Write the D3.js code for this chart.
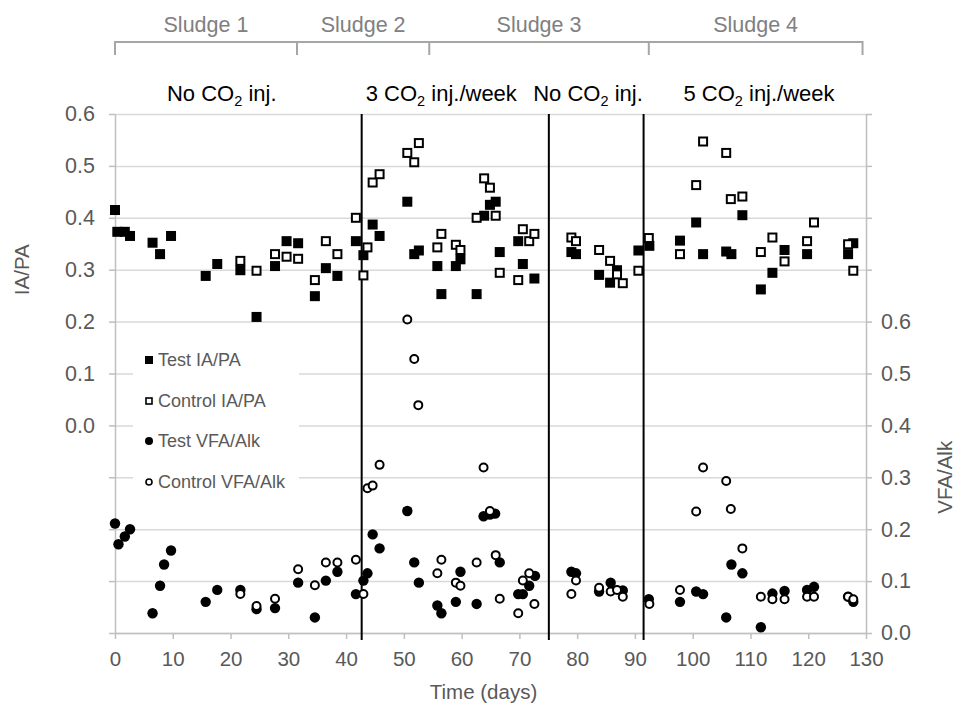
<!DOCTYPE html>
<html>
<head>
<meta charset="utf-8">
<script src="https://cdn.jsdelivr.net/npm/d3@7"></script>
<style>
  body { margin: 0; background: #fff; }
  svg { font-family: "Liberation Sans", Arial, sans-serif; display: block; }
</style>
</head>
<body>
<div id="chart"></div>
<script>
const width = 967;
const height = 713;

// [day, IA/PA]
const testIAPA = [
  [0, 0.415], [0.4, 0.373], [1.7, 0.373], [2.6, 0.365], [6.5, 0.352], [7.8, 0.330], [9.7, 0.365],
  [15.7, 0.288], [17.7, 0.311], [21.7, 0.299], [24.5, 0.209], [27.7, 0.307], [29.7, 0.355],
  [31.7, 0.351], [34.6, 0.249], [36.5, 0.303], [38.5, 0.288], [41.7, 0.355], [43, 0.328],
  [44.6, 0.387], [45.8, 0.365], [50.6, 0.431], [51.8, 0.330], [52.6, 0.337], [55.8, 0.307],
  [56.5, 0.253], [59, 0.307], [59.8, 0.320], [62.6, 0.253], [63.9, 0.404], [64.9, 0.425],
  [65.9, 0.431], [66.6, 0.334], [69.8, 0.355], [70.6, 0.311], [72.6, 0.283], [79, 0.334],
  [79.8, 0.330], [83.8, 0.290], [85.7, 0.275], [86.9, 0.299], [90.6, 0.337], [92.5, 0.346],
  [97.8, 0.356], [100.6, 0.391], [101.8, 0.330], [105.8, 0.335], [106.7, 0.330], [108.6, 0.405],
  [111.8, 0.262], [113.8, 0.294], [115.9, 0.338], [119.8, 0.330], [126.9, 0.330], [127.8, 0.351]
];

const controlIAPA = [
  [21.7, 0.317], [24.5, 0.298], [27.7, 0.330], [29.7, 0.325], [31.7, 0.321], [34.6, 0.280],
  [36.5, 0.355], [38.5, 0.330], [41.7, 0.400], [43, 0.289], [43.7, 0.343], [44.6, 0.468],
  [45.8, 0.484], [50.6, 0.525], [51.8, 0.507], [52.6, 0.544], [55.8, 0.343], [56.5, 0.369],
  [59, 0.348], [59.8, 0.338], [62.6, 0.400], [63.9, 0.476], [64.9, 0.458], [65.9, 0.404],
  [66.6, 0.294], [69.8, 0.280], [70.6, 0.378], [71.7, 0.355], [72.6, 0.369], [79, 0.362],
  [79.8, 0.355], [83.8, 0.338], [85.7, 0.317], [86.9, 0.291], [87.9, 0.274], [90.6, 0.298],
  [92.4, 0.361], [97.8, 0.330], [100.6, 0.463], [101.8, 0.547], [105.8, 0.525], [106.6, 0.436],
  [108.6, 0.441], [111.8, 0.334], [113.8, 0.362], [115.9, 0.316], [119.8, 0.355], [121, 0.391],
  [126.9, 0.349], [127.8, 0.298]
];

// [day, VFA/Alk]
const testVFA = [
  [0, 0.211], [0.6, 0.171], [1.7, 0.186], [2.6, 0.200], [6.5, 0.038], [7.8, 0.091], [8.5, 0.132],
  [9.7, 0.159], [15.7, 0.060], [17.7, 0.083], [21.7, 0.083], [24.5, 0.046], [27.7, 0.048],
  [31.7, 0.097], [34.6, 0.030], [36.5, 0.101], [38.5, 0.118], [41.7, 0.075], [43, 0.101],
  [43.7, 0.115], [44.6, 0.190], [45.8, 0.163], [50.6, 0.235], [51.8, 0.136], [52.6, 0.097],
  [55.8, 0.053], [56.5, 0.038], [59, 0.060], [59.8, 0.118], [62.6, 0.056], [63.8, 0.225],
  [64.9, 0.228], [65.8, 0.230], [66.6, 0.136], [69.8, 0.075], [70.6, 0.075], [71.7, 0.091],
  [72.7, 0.110], [79, 0.118], [79.8, 0.115], [83.8, 0.080], [85.8, 0.097], [87.9, 0.082],
  [92.4, 0.065], [97.8, 0.060], [100.6, 0.080], [101.8, 0.075], [105.8, 0.030], [106.7, 0.132],
  [108.6, 0.115], [111.8, 0.011], [113.8, 0.076], [115.9, 0.081], [119.8, 0.083], [121, 0.089],
  [126.9, 0.070], [127.8, 0.060]
];

const controlVFA = [
  [21.7, 0.075], [24.5, 0.052], [27.7, 0.066], [31.7, 0.123], [34.6, 0.092], [36.5, 0.136],
  [38.5, 0.136], [41.7, 0.141], [43, 0.075], [43.7, 0.279], [44.6, 0.284], [45.8, 0.324],
  [50.6, 0.604], [51.8, 0.528], [52.5, 0.439], [55.8, 0.115], [56.5, 0.141], [59, 0.097],
  [59.8, 0.091], [62.6, 0.136], [63.8, 0.319], [64.9, 0.235], [65.9, 0.150], [66.6, 0.066],
  [69.8, 0.038], [70.6, 0.101], [71.7, 0.115], [72.6, 0.056], [79, 0.075], [79.8, 0.101],
  [83.8, 0.087], [85.8, 0.080], [86.9, 0.083], [87.9, 0.070], [92.5, 0.056], [97.8, 0.083],
  [100.6, 0.234], [101.8, 0.319], [105.8, 0.293], [106.6, 0.239], [108.6, 0.163], [111.8, 0.070],
  [113.8, 0.065], [115.9, 0.065], [119.8, 0.070], [121, 0.070], [126.9, 0.070], [127.8, 0.065]
];

const xTicks = d3.range(0, 131, 10);
const leftTicks = [-0.4, -0.3, -0.2, -0.1, 0, 0.1, 0.2, 0.3, 0.4, 0.5, 0.6];
const rightTicks = [0, 0.1, 0.2, 0.3, 0.4, 0.5, 0.6, 0.7, 0.8, 0.9, 1.0];

// sludge periods (days where the bracket ticks sit)
const sludgeNames = ["Sludge 1", "Sludge 2", "Sludge 3", "Sludge 4"];
const sludgeBounds = [0, 31.5, 54.4, 92.4, 129.4];

// phase boundaries (vertical lines) and their labels
const phaseLines = [42.7, 75.1, 91.5];
const phaseLabels = [
  { pre: "No CO", post: " inj.", day: 9 },
  { pre: "3 CO", post: " inj./week", day: 43.4 },
  { pre: "No CO", post: " inj.", day: 72.4 },
  { pre: "5 CO", post: " inj./week", day: 98.4 }
];

const legendItems = ["Test IA/PA", "Control IA/PA", "Test VFA/Alk", "Control VFA/Alk"];

const grey = "#595959";

function drawChart() {
  const margin = { top: 114, right: 101, bottom: 80, left: 115 };
  const plot = {
    left: margin.left,
    right: width - margin.right,
    top: margin.top,
    bottom: height - margin.bottom
  };

  const svg = d3.select("#chart").append("svg")
    .attr("width", width)
    .attr("height", height)
    .attr("viewBox", `0 0 ${width} ${height}`);

  const xScale = d3.scaleLinear().domain([0, 130]).range([plot.left, plot.right]);
  const yLeft = d3.scaleLinear().domain([-0.4, 0.6]).range([plot.bottom, plot.top]);
  const yRight = d3.scaleLinear().domain([0, 1]).range([plot.bottom, plot.top]);

  // gridlines
  svg.append("g")
    .attr("class", "gridlines")
    .attr("transform", `translate(${plot.left},0)`)
    .call(d3.axisLeft(yLeft).tickValues(leftTicks).tickFormat("").tickSize(-(plot.right - plot.left)))
    .call(g => g.select(".domain").remove())
    .call(g => g.selectAll("line").attr("stroke", "#d9d9d9").attr("stroke-width", 1.5));

  const fmt = v => Math.abs(v) < 1e-9 ? "0.0" : d3.format(".1f")(v);

  // x axis
  svg.append("g")
    .attr("transform", `translate(0,${plot.bottom})`)
    .call(d3.axisBottom(xScale).tickValues(xTicks).tickSize(6).tickPadding(12).tickSizeOuter(0))
    .call(g => g.select(".domain").attr("stroke", "#bfbfbf").attr("stroke-width", 1.5))
    .call(g => g.selectAll(".tick line").attr("stroke", "#bfbfbf").attr("stroke-width", 1.5))
    .call(g => g.selectAll("text").attr("fill", grey).attr("font-size", 20.5).attr("font-family", null));

  // left axis
  svg.append("g")
    .attr("transform", `translate(${plot.left},0)`)
    .call(d3.axisLeft(yLeft).tickValues(leftTicks).tickSize(6).tickPadding(14).tickSizeOuter(0)
      .tickFormat(v => v > -1e-9 ? fmt(v) : ""))
    .call(g => g.select(".domain").attr("stroke", "#bfbfbf").attr("stroke-width", 1.5))
    .call(g => g.selectAll(".tick line").attr("stroke", "#bfbfbf").attr("stroke-width", 1.5))
    .call(g => g.selectAll("text").attr("fill", grey).attr("font-size", 21.5).attr("font-family", null));

  // right axis
  svg.append("g")
    .attr("transform", `translate(${plot.right},0)`)
    .call(d3.axisRight(yRight).tickValues(rightTicks).tickSize(6).tickPadding(9).tickSizeOuter(0)
      .tickFormat(v => v < 0.6 + 1e-9 ? fmt(v) : ""))
    .call(g => g.select(".domain").attr("stroke", "#bfbfbf").attr("stroke-width", 1.5))
    .call(g => g.selectAll(".tick line").attr("stroke", "#bfbfbf").attr("stroke-width", 1.5))
    .call(g => g.selectAll("text").attr("fill", grey).attr("font-size", 21.5).attr("font-family", null));

  // axis titles
  svg.append("text")
    .attr("x", (plot.left + plot.right) / 2 - 7).attr("y", 699)
    .attr("text-anchor", "middle").attr("fill", grey).attr("font-size", 20.5)
    .text("Time (days)");

  svg.append("text")
    .attr("transform", `translate(29,${yLeft(0.3)}) rotate(-90)`)
    .attr("text-anchor", "middle").attr("fill", grey).attr("font-size", 20.5)
    .text("IA/PA");

  svg.append("text")
    .attr("transform", `translate(952,${yRight(0.3)}) rotate(-90)`)
    .attr("text-anchor", "middle").attr("fill", grey).attr("font-size", 20.5)
    .text("VFA/Alk");

  // phase lines
  svg.append("g").selectAll("line")
    .data(phaseLines)
    .join("line")
    .attr("x1", d => xScale(d)).attr("x2", d => xScale(d))
    .attr("y1", plot.top).attr("y2", plot.bottom + 7)
    .attr("stroke", "#000").attr("stroke-width", 2);

  // sludge bracket
  const bracket = svg.append("g").attr("stroke", "#a6a6a6").attr("stroke-width", 2).attr("fill", "none");
  bracket.append("line")
    .attr("x1", xScale(sludgeBounds[0])).attr("x2", xScale(sludgeBounds[sludgeBounds.length - 1]))
    .attr("y1", 42).attr("y2", 42);
  bracket.selectAll(".tk")
    .data(sludgeBounds)
    .join("line")
    .attr("class", "tk")
    .attr("x1", d => xScale(d)).attr("x2", d => xScale(d))
    .attr("y1", 41).attr("y2", 55);

  svg.append("g").selectAll("text")
    .data(sludgeNames)
    .join("text")
    .attr("x", (d, i) => (xScale(sludgeBounds[i]) + xScale(sludgeBounds[i + 1])) / 2)
    .attr("y", 32)
    .attr("text-anchor", "middle")
    .attr("fill", "#808080")
    .attr("font-size", 21.5)
    .text(d => d);

  // phase labels with CO2 subscript
  phaseLabels.forEach(p => {
    const t = svg.append("text")
      .attr("x", xScale(p.day)).attr("y", 101)
      .attr("font-size", 22).attr("fill", "#000");
    t.append("tspan").text(p.pre);
    t.append("tspan").attr("font-size", 14.5).attr("dy", 5).text("2");
    t.append("tspan").attr("dy", -5).text(p.post);
  });

  // legend background
  svg.append("rect")
    .attr("x", 133).attr("y", 340).attr("width", 166).attr("height", 160)
    .attr("fill", "#fff");

  // marks
  const sq = 10;
  svg.append("g").selectAll("rect")
    .data(testIAPA)
    .join("rect")
    .attr("x", d => xScale(d[0]) - sq / 2).attr("y", d => yLeft(d[1]) - sq / 2)
    .attr("width", sq).attr("height", sq)
    .attr("fill", "#000");

  svg.append("g").selectAll("rect")
    .data(controlIAPA)
    .join("rect")
    .attr("x", d => xScale(d[0]) - 4).attr("y", d => yLeft(d[1]) - 4)
    .attr("width", 8).attr("height", 8)
    .attr("fill", "#fff").attr("stroke", "#000").attr("stroke-width", 2);

  svg.append("g").selectAll("circle")
    .data(testVFA)
    .join("circle")
    .attr("cx", d => xScale(d[0])).attr("cy", d => yRight(d[1]))
    .attr("r", 5.2)
    .attr("fill", "#000");

  svg.append("g").selectAll("circle")
    .data(controlVFA)
    .join("circle")
    .attr("cx", d => xScale(d[0])).attr("cy", d => yRight(d[1]))
    .attr("r", 4)
    .attr("fill", "#fff").attr("stroke", "#000").attr("stroke-width", 2);

  // legend
  const rowY = [360, 401, 441, 482];
  const legend = svg.append("g");
  legendItems.forEach((name, i) => {
    const cx = 149, cy = rowY[i];
    if (i === 0) {
      legend.append("rect").attr("x", cx - 4).attr("y", cy - 4).attr("width", 8).attr("height", 8).attr("fill", "#000");
    } else if (i === 1) {
      legend.append("rect").attr("x", cx - 3).attr("y", cy - 3).attr("width", 6).attr("height", 6)
        .attr("fill", "#fff").attr("stroke", "#000").attr("stroke-width", 1.6);
    } else if (i === 2) {
      legend.append("circle").attr("cx", cx).attr("cy", cy).attr("r", 4).attr("fill", "#000");
    } else {
      legend.append("circle").attr("cx", cx).attr("cy", cy).attr("r", 3)
        .attr("fill", "#fff").attr("stroke", "#000").attr("stroke-width", 1.6);
    }
    legend.append("text")
      .attr("x", 158).attr("y", cy + 6)
      .attr("font-size", 18).attr("fill", grey)
      .text(name);
  });
}

drawChart();
</script>
</body>
</html>
